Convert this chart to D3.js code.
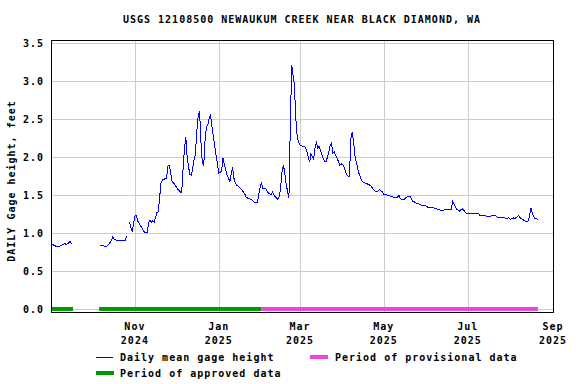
<!DOCTYPE html>
<html>
<head>
<meta charset="utf-8">
<script src="https://cdn.jsdelivr.net/npm/d3@7"></script>
<style>
  body { margin: 0; background: #fff; }
  text { font-family: "DejaVu Sans Mono", monospace; font-weight: bold; font-size: 10px; letter-spacing: 1px; fill: #000; }
</style>
</head>
<body>
<svg id="chart" width="576" height="384"></svg>
<script>
var parseTime = d3.timeParse("%Y-%m-%d");

var chartTitle = "USGS 12108500 NEWAUKUM CREEK NEAR BLACK DIAMOND, WA";
var yAxisLabel = "DAILY Gage height, feet";
var yTicks = [0, 0.5, 1.0, 1.5, 2.0, 2.5, 3.0, 3.5];
var xTicks = ["2024-11-01", "2025-01-01", "2025-03-01", "2025-05-01", "2025-07-01", "2025-09-01"];
var xTickLabels = [["Nov", "2024"], ["Jan", "2025"], ["Mar", "2025"], ["May", "2025"], ["Jul", "2025"], ["Sep", "2025"]];
var xRange = ["2024-09-01", "2025-09-01"];

var approvedPeriods = [["2024-09-01", "2024-09-17"], ["2024-10-06", "2025-02-01"]];
var provisionalPeriods = [["2025-02-01", "2025-08-21"]];

var legendLabels = ["Daily mean gage height", "Period of provisional data", "Period of approved data"];

// daily mean gage height, feet (null = no record)
var gageReadings = [
  ["2024-09-01", 0.85], ["2024-09-02", 0.85], ["2024-09-04", 0.83], ["2024-09-06", 0.82], ["2024-09-08", 0.83],
  ["2024-09-11", 0.86], ["2024-09-12", 0.85], ["2024-09-14", 0.87], ["2024-09-15", 0.89], ["2024-09-16", 0.85],
  ["2024-09-17", null],
  ["2024-10-07", 0.84], ["2024-10-09", 0.83], ["2024-10-11", 0.82], ["2024-10-13", 0.85], ["2024-10-15", 0.90],
  ["2024-10-16", 0.95], ["2024-10-17", 0.92], ["2024-10-19", 0.90], ["2024-10-22", 0.90], ["2024-10-25", 0.90],
  ["2024-10-26", 0.96], ["2024-10-27", null],
  ["2024-10-28", 1.15], ["2024-10-29", 1.07], ["2024-10-30", 1.02],
  ["2024-11-01", 1.22], ["2024-11-02", 1.23], ["2024-11-03", 1.16], ["2024-11-04", 1.13], ["2024-11-05", 1.10],
  ["2024-11-07", 1.04], ["2024-11-08", 1.01], ["2024-11-10", 1.01], ["2024-11-11", 1.14], ["2024-11-12", 1.17],
  ["2024-11-13", 1.14], ["2024-11-14", 1.16], ["2024-11-15", 1.14], ["2024-11-17", 1.27], ["2024-11-18", 1.28],
  ["2024-11-19", 1.47], ["2024-11-20", 1.66], ["2024-11-21", 1.70], ["2024-11-22", 1.70], ["2024-11-23", 1.72],
  ["2024-11-24", 1.72], ["2024-11-25", 1.88], ["2024-11-26", 1.89], ["2024-11-27", 1.79], ["2024-11-28", 1.68],
  ["2024-11-30", 1.64],
  ["2024-12-02", 1.58], ["2024-12-04", 1.54], ["2024-12-05", 1.53], ["2024-12-06", 1.84], ["2024-12-07", 2.10],
  ["2024-12-08", 2.26], ["2024-12-09", 2.00], ["2024-12-10", 1.87], ["2024-12-11", 1.77], ["2024-12-12", 1.76],
  ["2024-12-13", 1.85], ["2024-12-14", 1.96], ["2024-12-15", 2.04], ["2024-12-16", 2.34], ["2024-12-17", 2.53],
  ["2024-12-18", 2.61], ["2024-12-19", 2.20], ["2024-12-20", 1.93], ["2024-12-21", 1.88], ["2024-12-22", 2.22],
  ["2024-12-23", 2.40], ["2024-12-24", 2.42], ["2024-12-25", 2.51], ["2024-12-26", 2.56], ["2024-12-27", 2.40],
  ["2024-12-28", 2.28], ["2024-12-29", 2.15], ["2024-12-30", 2.02], ["2024-12-31", 1.91],
  ["2025-01-01", 1.79], ["2025-01-02", 1.80], ["2025-01-03", 1.81], ["2025-01-04", 1.99], ["2025-01-05", 1.91],
  ["2025-01-06", 1.83], ["2025-01-07", 1.76], ["2025-01-08", 1.73], ["2025-01-09", 1.67], ["2025-01-10", 1.77],
  ["2025-01-11", 1.87], ["2025-01-12", 1.72], ["2025-01-13", 1.66], ["2025-01-14", 1.63], ["2025-01-16", 1.60],
  ["2025-01-18", 1.56], ["2025-01-20", 1.51], ["2025-01-21", 1.47], ["2025-01-23", 1.45], ["2025-01-25", 1.44],
  ["2025-01-27", 1.40], ["2025-01-29", 1.40], ["2025-01-30", 1.50], ["2025-01-31", 1.60],
  ["2025-02-01", 1.67], ["2025-02-02", 1.59], ["2025-02-04", 1.59], ["2025-02-05", 1.55], ["2025-02-06", 1.53],
  ["2025-02-08", 1.50], ["2025-02-09", 1.54], ["2025-02-10", 1.50], ["2025-02-12", 1.46], ["2025-02-13", 1.44],
  ["2025-02-14", 1.48], ["2025-02-15", 1.60], ["2025-02-16", 1.81], ["2025-02-17", 1.90], ["2025-02-18", 1.78],
  ["2025-02-19", 1.64], ["2025-02-20", 1.55], ["2025-02-21", 1.46], ["2025-02-22", 2.40], ["2025-02-23", 3.21],
  ["2025-02-24", 3.08], ["2025-02-25", 2.94], ["2025-02-26", 2.51], ["2025-02-27", 2.27], ["2025-02-28", 2.19],
  ["2025-03-01", 2.16], ["2025-03-03", 2.14], ["2025-03-05", 2.13], ["2025-03-06", 2.07], ["2025-03-07", 2.00],
  ["2025-03-08", 1.93], ["2025-03-09", 2.04], ["2025-03-10", 2.00], ["2025-03-11", 1.97], ["2025-03-12", 2.13],
  ["2025-03-13", 2.19], ["2025-03-14", 2.12], ["2025-03-15", 2.14], ["2025-03-16", 2.08], ["2025-03-17", 2.03],
  ["2025-03-18", 1.98], ["2025-03-19", 1.94], ["2025-03-20", 1.94], ["2025-03-21", 2.00], ["2025-03-22", 2.07],
  ["2025-03-23", 2.15], ["2025-03-24", 2.18], ["2025-03-25", 2.05], ["2025-03-26", 2.07], ["2025-03-27", 2.02],
  ["2025-03-28", 1.98], ["2025-03-29", 1.94], ["2025-03-30", 1.89], ["2025-03-31", 1.91],
  ["2025-04-01", 1.90], ["2025-04-02", 1.87], ["2025-04-03", 1.81], ["2025-04-04", 1.77], ["2025-04-05", 1.75],
  ["2025-04-06", 1.75], ["2025-04-07", 2.24], ["2025-04-08", 2.33], ["2025-04-09", 2.20], ["2025-04-10", 2.02],
  ["2025-04-11", 1.93], ["2025-04-12", 1.85], ["2025-04-13", 1.78], ["2025-04-14", 1.73], ["2025-04-15", 1.69],
  ["2025-04-16", 1.67], ["2025-04-18", 1.65], ["2025-04-20", 1.64], ["2025-04-22", 1.61], ["2025-04-23", 1.58],
  ["2025-04-24", 1.56], ["2025-04-26", 1.54], ["2025-04-27", 1.56], ["2025-04-28", 1.57], ["2025-04-30", 1.54],
  ["2025-05-01", 1.51], ["2025-05-03", 1.50], ["2025-05-05", 1.49], ["2025-05-07", 1.48], ["2025-05-09", 1.46],
  ["2025-05-11", 1.47], ["2025-05-12", 1.50], ["2025-05-13", 1.45], ["2025-05-14", 1.44], ["2025-05-16", 1.44],
  ["2025-05-17", 1.47], ["2025-05-19", 1.48], ["2025-05-20", 1.48], ["2025-05-21", 1.45], ["2025-05-22", 1.42],
  ["2025-05-24", 1.40], ["2025-05-25", 1.39], ["2025-05-27", 1.38], ["2025-05-29", 1.36], ["2025-05-31", 1.36],
  ["2025-06-02", 1.34], ["2025-06-04", 1.33], ["2025-06-06", 1.33], ["2025-06-08", 1.32], ["2025-06-10", 1.31],
  ["2025-06-11", 1.30], ["2025-06-13", 1.30], ["2025-06-16", 1.31], ["2025-06-19", 1.31], ["2025-06-20", 1.42],
  ["2025-06-21", 1.38], ["2025-06-22", 1.34], ["2025-06-23", 1.31], ["2025-06-25", 1.29], ["2025-06-27", 1.32],
  ["2025-06-28", 1.30], ["2025-06-30", 1.26],
  ["2025-07-03", 1.25], ["2025-07-05", 1.25], ["2025-07-08", 1.25], ["2025-07-09", 1.25], ["2025-07-10", 1.23],
  ["2025-07-12", 1.23], ["2025-07-15", 1.22], ["2025-07-17", 1.22], ["2025-07-19", 1.23], ["2025-07-21", 1.23],
  ["2025-07-23", 1.20], ["2025-07-26", 1.20], ["2025-07-28", 1.20], ["2025-07-29", 1.19], ["2025-07-31", 1.20],
  ["2025-08-01", 1.18], ["2025-08-03", 1.20], ["2025-08-04", 1.19], ["2025-08-06", 1.21], ["2025-08-07", 1.23],
  ["2025-08-08", 1.20], ["2025-08-10", 1.18], ["2025-08-12", 1.15], ["2025-08-14", 1.16], ["2025-08-15", 1.23],
  ["2025-08-16", 1.33], ["2025-08-17", 1.25], ["2025-08-18", 1.22], ["2025-08-19", 1.19], ["2025-08-21", 1.18]
];

var lineColor = "#0000ff";
var approvedColor = "#009900";
var provisionalColor = "#ee44dd";
var gridColor = "#cccccc";

var margin = { left: 51, right: 23, top: 40, bottom: 72 };
var chartWidth = 576 - margin.left - margin.right;   // 502
var chartHeight = 384 - margin.top - margin.bottom;  // 272

var data = gageReadings.map(function (d) {
    return { date: parseTime(d[0]), value: d[1] };
});

var chartX = d3.scaleTime()
    .domain(xRange.map(parseTime))
    .range([0, chartWidth]);

var chartY = d3.scaleLinear()
    .domain([-0.04, 3.54])
    .range([chartHeight, 0]);

var svg = d3.select("#chart");

svg.append("text")
    .attr("x", margin.left + chartWidth / 2)
    .attr("y", 23)
    .attr("text-anchor", "middle")
    .text(chartTitle);

var g = svg.append("g")
    .attr("transform", "translate(" + margin.left + "," + margin.top + ")");

/* grid + y labels */
var yAxis = g.append("g")
    .attr("class", "y axis")
    .call(d3.axisLeft(chartY)
        .tickValues(yTicks)
        .tickSize(-chartWidth)
        .tickPadding(7)
        .tickFormat(d3.format(".1f")));
yAxis.select(".domain").remove();
yAxis.selectAll("line")
    .attr("stroke", gridColor)
    .attr("shape-rendering", "crispEdges");

var xAxis = g.append("g")
    .attr("class", "x axis")
    .attr("transform", "translate(0," + chartHeight + ")")
    .call(d3.axisBottom(chartX)
        .tickValues(xTicks.map(parseTime))
        .tickSize(-chartHeight)
        .tickFormat(""));
xAxis.select(".domain").remove();
xAxis.selectAll("line")
    .attr("stroke", gridColor)
    .attr("shape-rendering", "crispEdges");

/* two-line date labels */
var xLabel = g.selectAll(".xlabel")
    .data(xTicks)
    .enter().append("text")
    .attr("class", "xlabel")
    .attr("text-anchor", "middle")
    .attr("transform", function (d) {
        return "translate(" + chartX(parseTime(d)) + "," + (chartHeight + 18) + ")";
    });
xLabel.append("tspan")
    .attr("x", 0)
    .attr("y", 0)
    .text(function (d, i) { return xTickLabels[i][0]; });
xLabel.append("tspan")
    .attr("x", 0)
    .attr("y", 14)
    .text(function (d, i) { return xTickLabels[i][1]; });

/* approval period bars along zero */
function periodBars(periods, color) {
    g.selectAll(null)
        .data(periods)
        .enter().append("rect")
        .attr("x", function (d) { return chartX(parseTime(d[0])); })
        .attr("width", function (d) { return chartX(parseTime(d[1])) - chartX(parseTime(d[0])); })
        .attr("y", chartY(0) - 2)
        .attr("height", 4)
        .attr("fill", color);
}
periodBars(approvedPeriods, approvedColor);
periodBars(provisionalPeriods, provisionalColor);

var valueline = d3.line()
    .defined(function (d) { return d.value !== null; })
    .x(function (d) { return chartX(d.date); })
    .y(function (d) { return chartY(d.value); });

g.append("path")
    .attr("class", "line")
    .attr("d", valueline(data))
    .attr("fill", "none")
    .attr("stroke", lineColor)
    .attr("stroke-width", 1)
    .attr("shape-rendering", "crispEdges");

g.append("rect")
    .attr("x", 0.5)
    .attr("y", 0.5)
    .attr("width", chartWidth)
    .attr("height", chartHeight)
    .attr("fill", "none")
    .attr("stroke", "#000")
    .attr("shape-rendering", "crispEdges");

svg.append("text")
    .attr("transform", "translate(15," + (margin.top + chartHeight / 2 + 5) + ") rotate(-90)")
    .attr("text-anchor", "middle")
    .text(yAxisLabel);

/* legend */
var legend = svg.append("g");
legend.append("line")
    .attr("x1", 96).attr("x2", 113)
    .attr("y1", 357.5).attr("y2", 357.5)
    .attr("stroke", lineColor);
legend.append("text").attr("x", 120).attr("y", 361).text(legendLabels[0]);

legend.append("rect")
    .attr("x", 310).attr("y", 355).attr("width", 18).attr("height", 4)
    .attr("fill", provisionalColor);
legend.append("text").attr("x", 335).attr("y", 361).text(legendLabels[1]);

legend.append("rect")
    .attr("x", 96).attr("y", 371).attr("width", 18).attr("height", 4)
    .attr("fill", approvedColor);
legend.append("text").attr("x", 120).attr("y", 377).text(legendLabels[2]);
</script>
</body>
</html>
